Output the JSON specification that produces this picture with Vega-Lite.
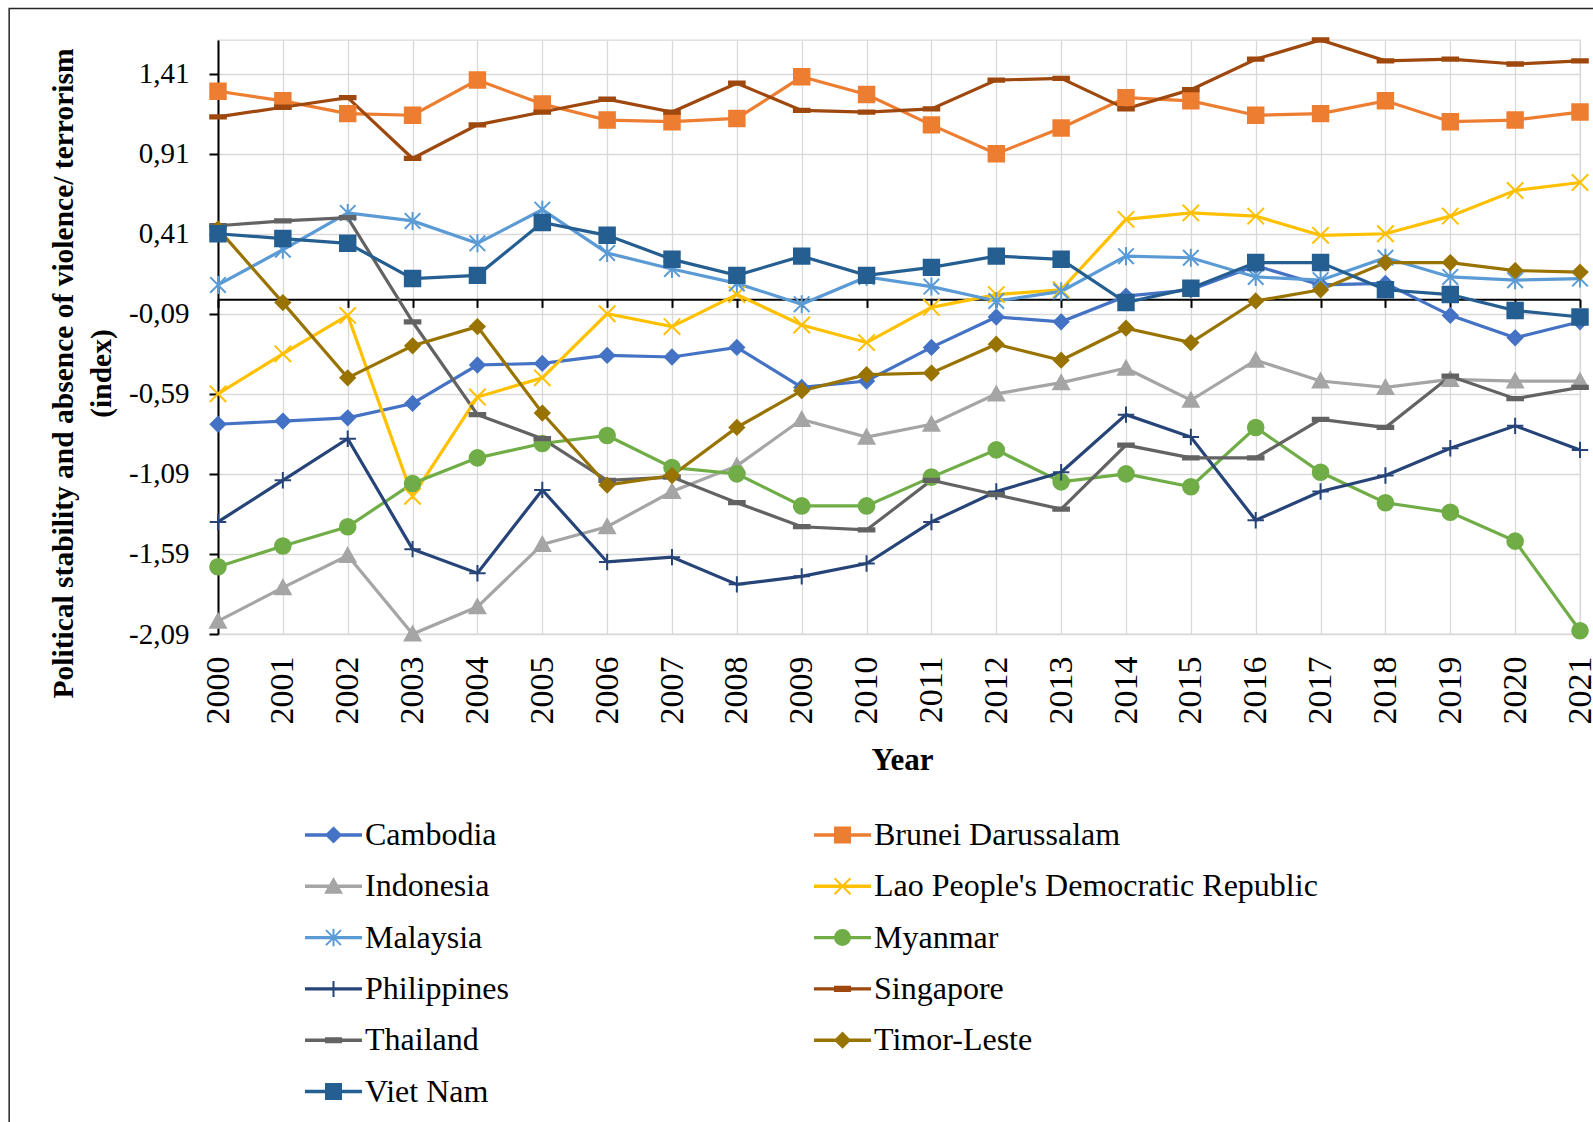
{
  "$schema": "https://vega.github.io/schema/vega-lite/v6.json",
  "width": 1362,
  "height": 594,
  "autosize": {"type": "none"},
  "padding": {"left": 218, "top": 40, "right": 13, "bottom": 488},
  "background": "white",
  "data": {
    "values": [
      {"country": "Cambodia", "year": 2000, "value": -0.78},
      {"country": "Cambodia", "year": 2001, "value": -0.76},
      {"country": "Cambodia", "year": 2002, "value": -0.74},
      {"country": "Cambodia", "year": 2003, "value": -0.65},
      {"country": "Cambodia", "year": 2004, "value": -0.41},
      {"country": "Cambodia", "year": 2005, "value": -0.40},
      {"country": "Cambodia", "year": 2006, "value": -0.35},
      {"country": "Cambodia", "year": 2007, "value": -0.36},
      {"country": "Cambodia", "year": 2008, "value": -0.30},
      {"country": "Cambodia", "year": 2009, "value": -0.55},
      {"country": "Cambodia", "year": 2010, "value": -0.51},
      {"country": "Cambodia", "year": 2011, "value": -0.30},
      {"country": "Cambodia", "year": 2012, "value": -0.11},
      {"country": "Cambodia", "year": 2013, "value": -0.14},
      {"country": "Cambodia", "year": 2014, "value": 0.02},
      {"country": "Cambodia", "year": 2015, "value": 0.06},
      {"country": "Cambodia", "year": 2016, "value": 0.21},
      {"country": "Cambodia", "year": 2017, "value": 0.09},
      {"country": "Cambodia", "year": 2018, "value": 0.10},
      {"country": "Cambodia", "year": 2019, "value": -0.10},
      {"country": "Cambodia", "year": 2020, "value": -0.24},
      {"country": "Cambodia", "year": 2021, "value": -0.14},

      {"country": "Brunei Darussalam", "year": 2000, "value": 1.30},
      {"country": "Brunei Darussalam", "year": 2001, "value": 1.24},
      {"country": "Brunei Darussalam", "year": 2002, "value": 1.16},
      {"country": "Brunei Darussalam", "year": 2003, "value": 1.15},
      {"country": "Brunei Darussalam", "year": 2004, "value": 1.37},
      {"country": "Brunei Darussalam", "year": 2005, "value": 1.22},
      {"country": "Brunei Darussalam", "year": 2006, "value": 1.12},
      {"country": "Brunei Darussalam", "year": 2007, "value": 1.11},
      {"country": "Brunei Darussalam", "year": 2008, "value": 1.13},
      {"country": "Brunei Darussalam", "year": 2009, "value": 1.39},
      {"country": "Brunei Darussalam", "year": 2010, "value": 1.28},
      {"country": "Brunei Darussalam", "year": 2011, "value": 1.09},
      {"country": "Brunei Darussalam", "year": 2012, "value": 0.91},
      {"country": "Brunei Darussalam", "year": 2013, "value": 1.07},
      {"country": "Brunei Darussalam", "year": 2014, "value": 1.26},
      {"country": "Brunei Darussalam", "year": 2015, "value": 1.24},
      {"country": "Brunei Darussalam", "year": 2016, "value": 1.15},
      {"country": "Brunei Darussalam", "year": 2017, "value": 1.16},
      {"country": "Brunei Darussalam", "year": 2018, "value": 1.24},
      {"country": "Brunei Darussalam", "year": 2019, "value": 1.11},
      {"country": "Brunei Darussalam", "year": 2020, "value": 1.12},
      {"country": "Brunei Darussalam", "year": 2021, "value": 1.17},

      {"country": "Indonesia", "year": 2000, "value": -2.01},
      {"country": "Indonesia", "year": 2001, "value": -1.80},
      {"country": "Indonesia", "year": 2002, "value": -1.60},
      {"country": "Indonesia", "year": 2003, "value": -2.09},
      {"country": "Indonesia", "year": 2004, "value": -1.92},
      {"country": "Indonesia", "year": 2005, "value": -1.53},
      {"country": "Indonesia", "year": 2006, "value": -1.42},
      {"country": "Indonesia", "year": 2007, "value": -1.20},
      {"country": "Indonesia", "year": 2008, "value": -1.04},
      {"country": "Indonesia", "year": 2009, "value": -0.75},
      {"country": "Indonesia", "year": 2010, "value": -0.86},
      {"country": "Indonesia", "year": 2011, "value": -0.78},
      {"country": "Indonesia", "year": 2012, "value": -0.59},
      {"country": "Indonesia", "year": 2013, "value": -0.52},
      {"country": "Indonesia", "year": 2014, "value": -0.43},
      {"country": "Indonesia", "year": 2015, "value": -0.63},
      {"country": "Indonesia", "year": 2016, "value": -0.38},
      {"country": "Indonesia", "year": 2017, "value": -0.51},
      {"country": "Indonesia", "year": 2018, "value": -0.55},
      {"country": "Indonesia", "year": 2019, "value": -0.50},
      {"country": "Indonesia", "year": 2020, "value": -0.51},
      {"country": "Indonesia", "year": 2021, "value": -0.51},

      {"country": "Lao People's Democratic Republic", "year": 2000, "value": -0.59},
      {"country": "Lao People's Democratic Republic", "year": 2001, "value": -0.34},
      {"country": "Lao People's Democratic Republic", "year": 2002, "value": -0.10},
      {"country": "Lao People's Democratic Republic", "year": 2003, "value": -1.23},
      {"country": "Lao People's Democratic Republic", "year": 2004, "value": -0.61},
      {"country": "Lao People's Democratic Republic", "year": 2005, "value": -0.49},
      {"country": "Lao People's Democratic Republic", "year": 2006, "value": -0.09},
      {"country": "Lao People's Democratic Republic", "year": 2007, "value": -0.17},
      {"country": "Lao People's Democratic Republic", "year": 2008, "value": 0.03},
      {"country": "Lao People's Democratic Republic", "year": 2009, "value": -0.16},
      {"country": "Lao People's Democratic Republic", "year": 2010, "value": -0.27},
      {"country": "Lao People's Democratic Republic", "year": 2011, "value": -0.05},
      {"country": "Lao People's Democratic Republic", "year": 2012, "value": 0.03},
      {"country": "Lao People's Democratic Republic", "year": 2013, "value": 0.06},
      {"country": "Lao People's Democratic Republic", "year": 2014, "value": 0.50},
      {"country": "Lao People's Democratic Republic", "year": 2015, "value": 0.54},
      {"country": "Lao People's Democratic Republic", "year": 2016, "value": 0.52},
      {"country": "Lao People's Democratic Republic", "year": 2017, "value": 0.40},
      {"country": "Lao People's Democratic Republic", "year": 2018, "value": 0.41},
      {"country": "Lao People's Democratic Republic", "year": 2019, "value": 0.52},
      {"country": "Lao People's Democratic Republic", "year": 2020, "value": 0.68},
      {"country": "Lao People's Democratic Republic", "year": 2021, "value": 0.73},

      {"country": "Malaysia", "year": 2000, "value": 0.09},
      {"country": "Malaysia", "year": 2001, "value": 0.31},
      {"country": "Malaysia", "year": 2002, "value": 0.54},
      {"country": "Malaysia", "year": 2003, "value": 0.49},
      {"country": "Malaysia", "year": 2004, "value": 0.35},
      {"country": "Malaysia", "year": 2005, "value": 0.56},
      {"country": "Malaysia", "year": 2006, "value": 0.29},
      {"country": "Malaysia", "year": 2007, "value": 0.19},
      {"country": "Malaysia", "year": 2008, "value": 0.10},
      {"country": "Malaysia", "year": 2009, "value": -0.03},
      {"country": "Malaysia", "year": 2010, "value": 0.14},
      {"country": "Malaysia", "year": 2011, "value": 0.08},
      {"country": "Malaysia", "year": 2012, "value": -0.01},
      {"country": "Malaysia", "year": 2013, "value": 0.05},
      {"country": "Malaysia", "year": 2014, "value": 0.27},
      {"country": "Malaysia", "year": 2015, "value": 0.26},
      {"country": "Malaysia", "year": 2016, "value": 0.14},
      {"country": "Malaysia", "year": 2017, "value": 0.12},
      {"country": "Malaysia", "year": 2018, "value": 0.26},
      {"country": "Malaysia", "year": 2019, "value": 0.14},
      {"country": "Malaysia", "year": 2020, "value": 0.12},
      {"country": "Malaysia", "year": 2021, "value": 0.13},

      {"country": "Myanmar", "year": 2000, "value": -1.67},
      {"country": "Myanmar", "year": 2001, "value": -1.54},
      {"country": "Myanmar", "year": 2002, "value": -1.42},
      {"country": "Myanmar", "year": 2003, "value": -1.15},
      {"country": "Myanmar", "year": 2004, "value": -0.99},
      {"country": "Myanmar", "year": 2005, "value": -0.90},
      {"country": "Myanmar", "year": 2006, "value": -0.85},
      {"country": "Myanmar", "year": 2007, "value": -1.05},
      {"country": "Myanmar", "year": 2008, "value": -1.09},
      {"country": "Myanmar", "year": 2009, "value": -1.29},
      {"country": "Myanmar", "year": 2010, "value": -1.29},
      {"country": "Myanmar", "year": 2011, "value": -1.11},
      {"country": "Myanmar", "year": 2012, "value": -0.94},
      {"country": "Myanmar", "year": 2013, "value": -1.14},
      {"country": "Myanmar", "year": 2014, "value": -1.09},
      {"country": "Myanmar", "year": 2015, "value": -1.17},
      {"country": "Myanmar", "year": 2016, "value": -0.80},
      {"country": "Myanmar", "year": 2017, "value": -1.08},
      {"country": "Myanmar", "year": 2018, "value": -1.27},
      {"country": "Myanmar", "year": 2019, "value": -1.33},
      {"country": "Myanmar", "year": 2020, "value": -1.51},
      {"country": "Myanmar", "year": 2021, "value": -2.07},

      {"country": "Philippines", "year": 2000, "value": -1.39},
      {"country": "Philippines", "year": 2001, "value": -1.13},
      {"country": "Philippines", "year": 2002, "value": -0.87},
      {"country": "Philippines", "year": 2003, "value": -1.56},
      {"country": "Philippines", "year": 2004, "value": -1.71},
      {"country": "Philippines", "year": 2005, "value": -1.19},
      {"country": "Philippines", "year": 2006, "value": -1.64},
      {"country": "Philippines", "year": 2007, "value": -1.61},
      {"country": "Philippines", "year": 2008, "value": -1.78},
      {"country": "Philippines", "year": 2009, "value": -1.73},
      {"country": "Philippines", "year": 2010, "value": -1.65},
      {"country": "Philippines", "year": 2011, "value": -1.39},
      {"country": "Philippines", "year": 2012, "value": -1.20},
      {"country": "Philippines", "year": 2013, "value": -1.08},
      {"country": "Philippines", "year": 2014, "value": -0.72},
      {"country": "Philippines", "year": 2015, "value": -0.86},
      {"country": "Philippines", "year": 2016, "value": -1.38},
      {"country": "Philippines", "year": 2017, "value": -1.20},
      {"country": "Philippines", "year": 2018, "value": -1.10},
      {"country": "Philippines", "year": 2019, "value": -0.93},
      {"country": "Philippines", "year": 2020, "value": -0.79},
      {"country": "Philippines", "year": 2021, "value": -0.94},

      {"country": "Singapore", "year": 2000, "value": 1.14},
      {"country": "Singapore", "year": 2001, "value": 1.20},
      {"country": "Singapore", "year": 2002, "value": 1.26},
      {"country": "Singapore", "year": 2003, "value": 0.88},
      {"country": "Singapore", "year": 2004, "value": 1.09},
      {"country": "Singapore", "year": 2005, "value": 1.17},
      {"country": "Singapore", "year": 2006, "value": 1.25},
      {"country": "Singapore", "year": 2007, "value": 1.17},
      {"country": "Singapore", "year": 2008, "value": 1.35},
      {"country": "Singapore", "year": 2009, "value": 1.18},
      {"country": "Singapore", "year": 2010, "value": 1.17},
      {"country": "Singapore", "year": 2011, "value": 1.19},
      {"country": "Singapore", "year": 2012, "value": 1.37},
      {"country": "Singapore", "year": 2013, "value": 1.38},
      {"country": "Singapore", "year": 2014, "value": 1.19},
      {"country": "Singapore", "year": 2015, "value": 1.31},
      {"country": "Singapore", "year": 2016, "value": 1.50},
      {"country": "Singapore", "year": 2017, "value": 1.62},
      {"country": "Singapore", "year": 2018, "value": 1.49},
      {"country": "Singapore", "year": 2019, "value": 1.50},
      {"country": "Singapore", "year": 2020, "value": 1.47},
      {"country": "Singapore", "year": 2021, "value": 1.49},

      {"country": "Thailand", "year": 2000, "value": 0.46},
      {"country": "Thailand", "year": 2001, "value": 0.49},
      {"country": "Thailand", "year": 2002, "value": 0.51},
      {"country": "Thailand", "year": 2003, "value": -0.14},
      {"country": "Thailand", "year": 2004, "value": -0.72},
      {"country": "Thailand", "year": 2005, "value": -0.87},
      {"country": "Thailand", "year": 2006, "value": -1.13},
      {"country": "Thailand", "year": 2007, "value": -1.11},
      {"country": "Thailand", "year": 2008, "value": -1.27},
      {"country": "Thailand", "year": 2009, "value": -1.42},
      {"country": "Thailand", "year": 2010, "value": -1.44},
      {"country": "Thailand", "year": 2011, "value": -1.13},
      {"country": "Thailand", "year": 2012, "value": -1.22},
      {"country": "Thailand", "year": 2013, "value": -1.31},
      {"country": "Thailand", "year": 2014, "value": -0.91},
      {"country": "Thailand", "year": 2015, "value": -0.99},
      {"country": "Thailand", "year": 2016, "value": -0.99},
      {"country": "Thailand", "year": 2017, "value": -0.75},
      {"country": "Thailand", "year": 2018, "value": -0.80},
      {"country": "Thailand", "year": 2019, "value": -0.48},
      {"country": "Thailand", "year": 2020, "value": -0.62},
      {"country": "Thailand", "year": 2021, "value": -0.55},

      {"country": "Timor-Leste", "year": 2000, "value": 0.44},
      {"country": "Timor-Leste", "year": 2001, "value": -0.02},
      {"country": "Timor-Leste", "year": 2002, "value": -0.49},
      {"country": "Timor-Leste", "year": 2003, "value": -0.29},
      {"country": "Timor-Leste", "year": 2004, "value": -0.17},
      {"country": "Timor-Leste", "year": 2005, "value": -0.71},
      {"country": "Timor-Leste", "year": 2006, "value": -1.16},
      {"country": "Timor-Leste", "year": 2007, "value": -1.10},
      {"country": "Timor-Leste", "year": 2008, "value": -0.80},
      {"country": "Timor-Leste", "year": 2009, "value": -0.57},
      {"country": "Timor-Leste", "year": 2010, "value": -0.47},
      {"country": "Timor-Leste", "year": 2011, "value": -0.46},
      {"country": "Timor-Leste", "year": 2012, "value": -0.28},
      {"country": "Timor-Leste", "year": 2013, "value": -0.38},
      {"country": "Timor-Leste", "year": 2014, "value": -0.18},
      {"country": "Timor-Leste", "year": 2015, "value": -0.27},
      {"country": "Timor-Leste", "year": 2016, "value": -0.01},
      {"country": "Timor-Leste", "year": 2017, "value": 0.06},
      {"country": "Timor-Leste", "year": 2018, "value": 0.23},
      {"country": "Timor-Leste", "year": 2019, "value": 0.23},
      {"country": "Timor-Leste", "year": 2020, "value": 0.18},
      {"country": "Timor-Leste", "year": 2021, "value": 0.17},

      {"country": "Viet Nam", "year": 2000, "value": 0.41},
      {"country": "Viet Nam", "year": 2001, "value": 0.38},
      {"country": "Viet Nam", "year": 2002, "value": 0.35},
      {"country": "Viet Nam", "year": 2003, "value": 0.13},
      {"country": "Viet Nam", "year": 2004, "value": 0.15},
      {"country": "Viet Nam", "year": 2005, "value": 0.48},
      {"country": "Viet Nam", "year": 2006, "value": 0.40},
      {"country": "Viet Nam", "year": 2007, "value": 0.25},
      {"country": "Viet Nam", "year": 2008, "value": 0.15},
      {"country": "Viet Nam", "year": 2009, "value": 0.27},
      {"country": "Viet Nam", "year": 2010, "value": 0.15},
      {"country": "Viet Nam", "year": 2011, "value": 0.20},
      {"country": "Viet Nam", "year": 2012, "value": 0.27},
      {"country": "Viet Nam", "year": 2013, "value": 0.25},
      {"country": "Viet Nam", "year": 2014, "value": -0.02},
      {"country": "Viet Nam", "year": 2015, "value": 0.07},
      {"country": "Viet Nam", "year": 2016, "value": 0.23},
      {"country": "Viet Nam", "year": 2017, "value": 0.23},
      {"country": "Viet Nam", "year": 2018, "value": 0.06},
      {"country": "Viet Nam", "year": 2019, "value": 0.03},
      {"country": "Viet Nam", "year": 2020, "value": -0.07},
      {"country": "Viet Nam", "year": 2021, "value": -0.11}
    ]
  },
  "resolve": {
    "axis": {"x": "independent"},
    "scale": {"shape": "independent", "color": "independent", "stroke": "independent"}
  },
  "layer": [
    {
      "data": {"values": [{}]},
      "mark": {"type": "rect", "fillOpacity": 0, "stroke": "#262626", "strokeWidth": 1.5, "clip": false},
      "encoding": {
        "x": {"datum": 1996.78, "type": "quantitative", "axis": null},
        "x2": {"datum": 2030},
        "y": {
          "datum": 1.816,
          "type": "quantitative",
          "axis": {
            "values": [-2.09, -1.59, -1.09, -0.59, -0.09, 0.41, 0.91, 1.41],
            "labelExpr": "(datum.value < 0 ? '-' : '') + replace(format(abs(datum.value), '.2f'), '.', ',')",
            "labelFont": "Liberation Serif", "labelFontSize": 29, "labelColor": "#000000", "labelPadding": 20, "labelOverlap": false,
            "tickSize": 9, "tickWidth": 2, "tickColor": "#000000",
            "domainColor": "#000000", "domainWidth": 2,
            "grid": true, "gridColor": "#D9D9D9", "gridWidth": 1.3,
            "title": ["Political stability and absence of violence/ terrorism", "(index)"],
            "titleFont": "Liberation Serif", "titleFontSize": 29.5, "titleFontWeight": "bold", "titleColor": "#000000",
            "titleAngle": 270, "titleAlign": "center", "titleBaseline": "alphabetic", "titleLineHeight": 38.5,
            "titleX": -146, "titleY": 333
          }
        },
        "y2": {"datum": -6}
      }
    },
    {
      "mark": {"type": "line", "strokeWidth": 3.2, "clip": false},
      "encoding": {
        "x": {
          "field": "year",
          "type": "quantitative",
          "scale": {"domain": [2000, 2021], "nice": false, "zero": false},
          "axis": {
            "orient": "bottom",
            "values": [2000, 2001, 2002, 2003, 2004, 2005, 2006, 2007, 2008, 2009, 2010, 2011, 2012, 2013, 2014, 2015, 2016, 2017, 2018, 2019, 2020, 2021],
            "format": "d",
            "labelAngle": 270,
            "labelFont": "Liberation Serif", "labelFontSize": 34, "labelColor": "#000000", "labelPadding": 22,
            "labelFlush": false, "labelOverlap": false, "labelBound": false,
            "ticks": false, "tickSize": 0, "domain": false,
            "grid": true, "gridColor": "#D9D9D9", "gridWidth": 1.3,
            "title": "Year",
            "titleFont": "Liberation Serif", "titleFontSize": 31, "titleFontWeight": "bold", "titleColor": "#000000",
            "titleAlign": "center", "titleBaseline": "alphabetic", "titleX": 684, "titleY": 135
          }
        },
        "y": {
          "field": "value",
          "type": "quantitative",
          "scale": {"domain": [-2.09, 1.62], "nice": false, "zero": false},
          "axis": {
            "values": [-2.09, -1.59, -1.09, -0.59, -0.09, 0.41, 0.91, 1.41],
            "labelExpr": "(datum.value < 0 ? '-' : '') + replace(format(abs(datum.value), '.2f'), '.', ',')",
            "labelFont": "Liberation Serif", "labelFontSize": 29, "labelColor": "#000000", "labelPadding": 20, "labelOverlap": false,
            "tickSize": 9, "tickWidth": 2, "tickColor": "#000000",
            "domainColor": "#000000", "domainWidth": 2,
            "grid": true, "gridColor": "#D9D9D9", "gridWidth": 1.3,
            "title": ["Political stability and absence of violence/ terrorism", "(index)"],
            "titleFont": "Liberation Serif", "titleFontSize": 29.5, "titleFontWeight": "bold", "titleColor": "#000000",
            "titleAngle": 270, "titleAlign": "center", "titleBaseline": "alphabetic", "titleLineHeight": 38.5,
            "titleX": -146, "titleY": 333
          }
        },
        "color": {
          "field": "country",
          "type": "nominal",
          "scale": {
            "domain": ["Cambodia", "Brunei Darussalam", "Indonesia", "Lao People's Democratic Republic", "Malaysia", "Myanmar", "Philippines", "Singapore", "Thailand", "Timor-Leste", "Viet Nam"],
            "range": ["#4472C4", "#ED7D31", "#A5A5A5", "#FFC000", "#5B9BD5", "#70AD47", "#264478", "#9E480E", "#636363", "#997300", "#255E91"]
          },
          "legend": null
        }
      }
    },
    {
      "mark": {"type": "point", "filled": true, "opacity": 1, "size": 270, "strokeWidth": 2, "clip": false},
      "encoding": {
        "x": {
          "field": "year",
          "type": "quantitative",
          "axis": {
            "orient": "bottom",
            "offset": -334.63,
            "values": [2000, 2001, 2002, 2003, 2004, 2005, 2006, 2007, 2008, 2009, 2010, 2011, 2012, 2013, 2014, 2015, 2016, 2017, 2018, 2019, 2020, 2021],
            "labels": false, "grid": false, "title": null,
            "domain": true, "domainColor": "#000000", "domainWidth": 2,
            "ticks": true, "tickSize": 8, "tickWidth": 2, "tickColor": "#000000"
          }
        },
        "y": {
          "field": "value",
          "type": "quantitative",
          "axis": {
            "values": [-2.09, -1.59, -1.09, -0.59, -0.09, 0.41, 0.91, 1.41],
            "labelExpr": "(datum.value < 0 ? '-' : '') + replace(format(abs(datum.value), '.2f'), '.', ',')",
            "labelFont": "Liberation Serif", "labelFontSize": 29, "labelColor": "#000000", "labelPadding": 20, "labelOverlap": false,
            "tickSize": 9, "tickWidth": 2, "tickColor": "#000000",
            "domainColor": "#000000", "domainWidth": 2,
            "grid": true, "gridColor": "#D9D9D9", "gridWidth": 1.3,
            "title": ["Political stability and absence of violence/ terrorism", "(index)"],
            "titleFont": "Liberation Serif", "titleFontSize": 29.5, "titleFontWeight": "bold", "titleColor": "#000000",
            "titleAngle": 270, "titleAlign": "center", "titleBaseline": "alphabetic", "titleLineHeight": 38.5,
            "titleX": -146, "titleY": 333
          }
        },
        "color": {
          "field": "country",
          "type": "nominal",
          "scale": {
            "domain": ["Cambodia", "Brunei Darussalam", "Indonesia", "Lao People's Democratic Republic", "Malaysia", "Myanmar", "Philippines", "Singapore", "Thailand", "Timor-Leste", "Viet Nam"],
            "range": ["#4472C4", "#ED7D31", "#A5A5A5", "#FFC000", "#5B9BD5", "#70AD47", "#264478", "#9E480E", "#636363", "#997300", "#255E91"]
          },
          "legend": null
        },
        "stroke": {
          "field": "country",
          "type": "nominal",
          "scale": {
            "domain": ["Cambodia", "Brunei Darussalam", "Indonesia", "Lao People's Democratic Republic", "Malaysia", "Myanmar", "Philippines", "Singapore", "Thailand", "Timor-Leste", "Viet Nam"],
            "range": ["#4472C4", "#ED7D31", "#A5A5A5", "#FFC000", "#5B9BD5", "#70AD47", "#264478", "#9E480E", "#636363", "#997300", "#255E91"]
          },
          "legend": null
        },
        "shape": {
          "field": "country",
          "type": "nominal",
          "scale": {
            "domain": ["Cambodia", "Brunei Darussalam", "Indonesia", "Lao People's Democratic Republic", "Malaysia", "Myanmar", "Philippines", "Singapore", "Thailand", "Timor-Leste", "Viet Nam"],
            "range": [
              "M0,-0.88L0.88,0L0,0.88L-0.88,0Z",
              "M-0.94,-0.94H0.94V0.94H-0.94Z",
              "M0,-0.9L0.95,0.8H-0.95Z",
              "M-1,-1L1,1M-1,1L1,-1",
              "M-0.95,-0.95L0.95,0.95M-0.95,0.95L0.95,-0.95M0,-1.1V1.1",
              "M0.95,0A0.95,0.95 0 1,1 -0.95,0A0.95,0.95 0 1,1 0.95,0Z",
              "M-1,0H1M0,-1V1",
              "M-0.95,-0.2H0.95V0.2H-0.95Z",
              "M-0.95,-0.2H0.95V0.2H-0.95Z",
              "M0,-0.88L0.88,0L0,0.88L-0.88,0Z",
              "M-0.94,-0.94H0.94V0.94H-0.94Z"
            ]
          },
          "legend": null
        }
      }
    },
    {
      "mark": {"type": "point", "filled": true, "opacity": 0, "size": 196, "strokeWidth": 2, "clip": false},
      "encoding": {
        "x": {"field": "year", "type": "quantitative", "axis": null},
        "y": {
          "field": "value",
          "type": "quantitative",
          "axis": {
            "values": [-2.09, -1.59, -1.09, -0.59, -0.09, 0.41, 0.91, 1.41],
            "labelExpr": "(datum.value < 0 ? '-' : '') + replace(format(abs(datum.value), '.2f'), '.', ',')",
            "labelFont": "Liberation Serif", "labelFontSize": 29, "labelColor": "#000000", "labelPadding": 20, "labelOverlap": false,
            "tickSize": 9, "tickWidth": 2, "tickColor": "#000000",
            "domainColor": "#000000", "domainWidth": 2,
            "grid": true, "gridColor": "#D9D9D9", "gridWidth": 1.3,
            "title": ["Political stability and absence of violence/ terrorism", "(index)"],
            "titleFont": "Liberation Serif", "titleFontSize": 29.5, "titleFontWeight": "bold", "titleColor": "#000000",
            "titleAngle": 270, "titleAlign": "center", "titleBaseline": "alphabetic", "titleLineHeight": 38.5,
            "titleX": -146, "titleY": 333
          }
        },
        "color": {
          "field": "country",
          "type": "nominal",
          "scale": {
            "domain": ["Cambodia", "Brunei Darussalam", "Indonesia", "Lao People's Democratic Republic", "Malaysia", "Myanmar", "Philippines", "Singapore", "Thailand", "Timor-Leste", "Viet Nam"],
            "range": ["#4472C4", "#ED7D31", "#A5A5A5", "#FFC000", "#5B9BD5", "#70AD47", "#264478", "#9E480E", "#636363", "#997300", "#255E91"]
          },
          "legend": {
            "orient": "none", "legendX": 99.5, "legendY": 779, "direction": "horizontal", "columns": 2,
            "columnPadding": 301, "rowPadding": 19.3, "padding": 0, "title": null,
            "labelFont": "Liberation Serif", "labelFontSize": 32, "labelColor": "#000000", "labelLimit": 1000, "labelOffset": 15.5,
            "symbolSize": 196, "symbolStrokeWidth": 2, "symbolOpacity": 1,
            "symbolFillColor": "#000000", "symbolStrokeColor": "#000000"
          }
        },
        "stroke": {
          "field": "country",
          "type": "nominal",
          "scale": {
            "domain": ["Cambodia", "Brunei Darussalam", "Indonesia", "Lao People's Democratic Republic", "Malaysia", "Myanmar", "Philippines", "Singapore", "Thailand", "Timor-Leste", "Viet Nam"],
            "range": ["#4472C4", "#ED7D31", "#A5A5A5", "#FFC000", "#5B9BD5", "#70AD47", "#264478", "#9E480E", "#636363", "#997300", "#255E91"]
          },
          "legend": {
            "orient": "none", "legendX": 99.5, "legendY": 779, "direction": "horizontal", "columns": 2,
            "columnPadding": 301, "rowPadding": 19.3, "padding": 0, "title": null,
            "labelFont": "Liberation Serif", "labelFontSize": 32, "labelColor": "#000000", "labelLimit": 1000, "labelOffset": 15.5,
            "symbolSize": 196, "symbolStrokeWidth": 2, "symbolOpacity": 1,
            "symbolFillColor": "#000000", "symbolStrokeColor": "#000000"
          }
        },
        "shape": {
          "field": "country",
          "type": "nominal",
          "scale": {
            "domain": ["Cambodia", "Brunei Darussalam", "Indonesia", "Lao People's Democratic Republic", "Malaysia", "Myanmar", "Philippines", "Singapore", "Thailand", "Timor-Leste", "Viet Nam"],
            "range": [
              "M-3.93,-0.1H3.93V0.1H-3.93ZM0,-1.03L1.03,0L0,1.03L-1.03,0Z",
              "M-3.93,-0.1H3.93V0.1H-3.93ZM-1.07,-1.07H1.07V1.07H-1.07Z",
              "M-3.93,-0.1H3.93V0.1H-3.93ZM0,-1.03L1.1,0.93H-1.1Z",
              "M-3.93,-0.1H3.93V0.1H-3.93ZM-1.14,-1.14L1.14,1.14M-1.14,1.14L1.14,-1.14",
              "M-3.93,-0.1H3.93V0.1H-3.93ZM-1.07,-1.07L1.07,1.07M-1.07,1.07L1.07,-1.07M0,-1.25V1.25",
              "M-3.93,-0.1H3.93V0.1H-3.93ZM1.07,0A1.07,1.07 0 1,1 -1.07,0A1.07,1.07 0 1,1 1.07,0Z",
              "M-3.93,-0.1H3.93V0.1H-3.93ZM-1.14,0H1.14M0,-1.14V1.14",
              "M-3.93,-0.1H3.93V0.1H-3.93ZM-1.07,-0.29H1.07V0.29H-1.07Z",
              "M-3.93,-0.1H3.93V0.1H-3.93ZM-1.07,-0.29H1.07V0.29H-1.07Z",
              "M-3.93,-0.1H3.93V0.1H-3.93ZM0,-1.03L1.03,0L0,1.03L-1.03,0Z",
              "M-3.93,-0.1H3.93V0.1H-3.93ZM-1.07,-1.07H1.07V1.07H-1.07Z"
            ]
          },
          "legend": {
            "orient": "none", "legendX": 99.5, "legendY": 779, "direction": "horizontal", "columns": 2,
            "columnPadding": 301, "rowPadding": 19.3, "padding": 0, "title": null,
            "labelFont": "Liberation Serif", "labelFontSize": 32, "labelColor": "#000000", "labelLimit": 1000, "labelOffset": 15.5,
            "symbolSize": 196, "symbolStrokeWidth": 2, "symbolOpacity": 1,
            "symbolFillColor": "#000000", "symbolStrokeColor": "#000000"
          }
        }
      }
    }
  ],
  "config": {
    "font": "Liberation Serif",
    "view": {"stroke": "#D9D9D9", "strokeWidth": 1.3}
  }
}
